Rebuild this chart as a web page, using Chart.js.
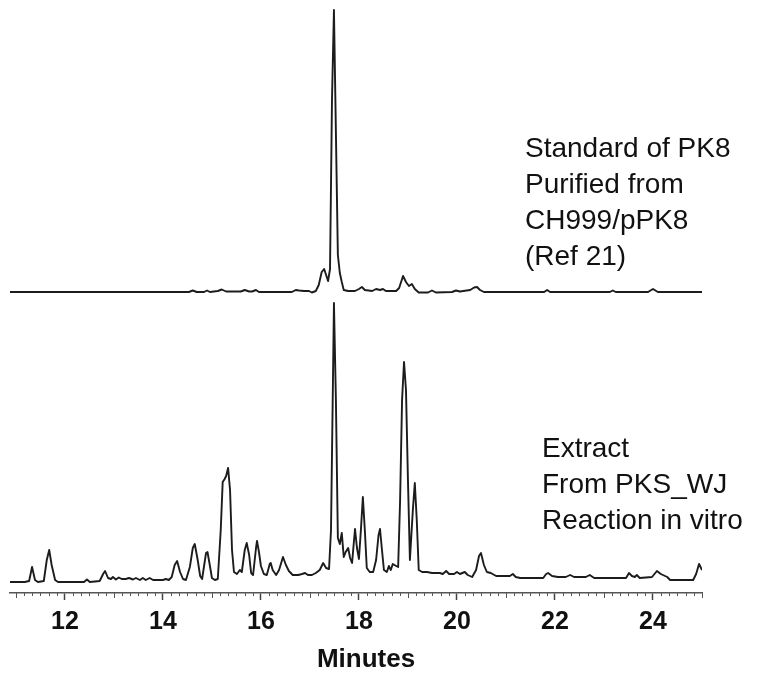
<!DOCTYPE html>
<html>
<head>
<meta charset="utf-8">
<script src="https://cdn.jsdelivr.net/npm/chart.js@4.4.1/dist/chart.umd.min.js"></script>
<style>
    html, body { margin: 0; padding: 0; background: #fff; }
</style>
</head>
<body>
<canvas id="chromatogram" width="761" height="675"></canvas>
<script>
// retention time (min) and detector signal, bottom trace = extract
const bottomTime = [10.88, 11.18, 11.27, 11.33, 11.39, 11.45, 11.57, 11.63, 11.68, 11.73, 11.80, 11.86,
    12.39, 12.45, 12.51, 12.71, 12.78, 12.82, 12.88, 12.94, 12.98, 13.04, 13.10, 13.16, 13.24, 13.31,
    13.39, 13.45, 13.53, 13.59, 13.65, 13.73, 13.80, 14.00, 14.06, 14.12, 14.18, 14.24, 14.29, 14.35,
    14.41, 14.47, 14.55, 14.61, 14.65, 14.71, 14.76, 14.80, 14.84, 14.88, 14.91, 14.96, 15.00, 15.06,
    15.12, 15.18, 15.22, 15.26, 15.29, 15.33, 15.37, 15.41, 15.45, 15.51, 15.57, 15.61, 15.67, 15.71,
    15.76, 15.80, 15.84, 15.90, 15.92, 15.96, 16.00, 16.06, 16.12, 16.18, 16.20, 16.24, 16.31, 16.37,
    16.45, 16.51, 16.57, 16.65, 16.76, 16.84, 16.90, 16.96, 17.04, 17.12, 17.20, 17.27, 17.33, 17.39,
    17.43, 17.47, 17.49, 17.53, 17.57, 17.61, 17.65, 17.69, 17.73, 17.78, 17.82, 17.86, 17.90, 17.92,
    17.96, 18.00, 18.04, 18.08, 18.12, 18.16, 18.22, 18.29, 18.35, 18.40, 18.43, 18.47, 18.51, 18.57,
    18.61, 18.65, 18.69, 18.76, 18.80, 18.84, 18.88, 18.92, 18.96, 19.00, 19.04, 19.10, 19.14, 19.18,
    19.22, 19.29, 19.39, 19.49, 19.65, 19.71, 19.78, 19.84, 19.94, 20.00, 20.06, 20.16, 20.22, 20.31,
    20.39, 20.45, 20.49, 20.55, 20.61, 20.69, 20.80, 21.08, 21.14, 21.20, 21.29, 21.76, 21.82, 21.86,
    21.94, 22.06, 22.22, 22.31, 22.39, 22.63, 22.71, 22.80, 23.45, 23.51, 23.57, 23.63, 23.67, 23.73,
    23.98, 24.08, 24.16, 24.29, 24.35, 24.82, 24.88, 24.94, 25.00];
const bottomSignal = [0, 0, 1, 15, 2, 0, 1, 22, 32, 17, 2, 0,
    0, 2.5, 0, 1, 8, 11, 4, 3, 5, 2.5, 4.5, 3, 3, 4,
    2.5, 4, 2, 4, 2, 4, 2, 2, 3, 2, 5, 17, 21, 10,
    3, 2, 15, 34, 38, 22, 6, 3, 16, 29, 30, 16, 4, 2,
    3, 52, 100, 103, 106, 114, 92, 32, 10, 8, 12, 10, 32, 39,
    27, 9, 7, 34, 41, 30, 16, 8, 7, 18, 19, 12, 7, 12,
    25, 17, 11, 7, 7, 8, 9, 7, 7, 9, 12, 19, 14, 13,
    52, 202, 279, 182, 44, 38, 49, 25, 30, 34, 24, 19, 42, 53,
    34, 23, 52, 85, 52, 14, 10, 10, 22, 47, 53, 32, 12, 10,
    16, 12, 18, 16, 15, 82, 182, 220, 192, 102, 22, 72, 99, 62,
    12, 10, 10, 9, 9, 8, 11, 8, 8, 10, 8, 10, 7, 5,
    12, 26, 29, 17, 10, 9, 6, 6, 8, 5, 4, 4, 8, 9,
    6, 5, 5, 7, 5, 5, 7, 4, 4, 9, 6, 5, 7, 4,
    5, 11, 8, 5, 2, 2, 8, 18, 12];

// top trace = PK8 standard
const topTime = [10.88, 14.53, 14.61, 14.69, 14.84, 14.90, 14.96, 15.12, 15.20, 15.29, 15.59, 15.67,
    15.76, 15.82, 15.90, 15.96, 16.63, 16.71, 16.78, 16.88, 16.98, 17.04, 17.12, 17.18, 17.24, 17.29,
    17.33, 17.37, 17.41, 17.45, 17.49, 17.57, 17.61, 17.65, 17.69, 17.78, 17.92, 18.00, 18.06, 18.12,
    18.27, 18.35, 18.43, 18.49, 18.55, 18.76, 18.82, 18.90, 18.96, 19.02, 19.08, 19.14, 19.22, 19.41,
    19.49, 19.57, 19.90, 19.98, 20.06, 20.27, 20.35, 20.41, 20.47, 20.55, 21.78, 21.84, 21.90, 23.12,
    23.18, 23.24, 23.90, 24.00, 24.10, 25.00];
const topSignal = [0, 0, 1.5, 0, 0, 1.5, 0, 1, 2.5, 0.5, 0.5, 2,
    0.5, 0.5, 2, 0, 0, 2, 1.5, 1, 1, -0.5, 1, 7, 20, 23,
    17, 11, 23, 192, 282, 37, 19, 10, 2, 1, 1, 3, 5, 2,
    1, 3, 2, 3, 1, 1, 4, 16, 10, 6, 8, 3, -0.5, -0.5,
    1.5, -0.5, 0, 1.5, 0.5, 2, 4.5, 5, 2, 0, 0, 2, 0, 0,
    1.5, 0, 0, 3, 0, 0];
const topOffset = 290;

const majorTicks = [12, 14, 16, 18, 20, 22, 24];
const topLabel = ['Standard of PK8', 'Purified from', 'CH999/pPK8', '(Ref 21)'];
const bottomLabel = ['Extract', 'From PKS_WJ', 'Reaction in vitro'];

const toPoints = function (xs, ys, offset) {
    return xs.map((x, i) => ({ x: x, y: ys[i] + offset }));
};

const axisExtras = {
    id: 'axisExtras',
    afterDraw(chart) {
        const ctx = chart.ctx;
        const xs = chart.scales.x;
        const y0 = chart.chartArea.bottom;

        // minor ticks every 10 s, longer at odd minutes
        ctx.save();
        ctx.strokeStyle = '#555';
        ctx.lineWidth = 1;
        for (let i = 65; i <= 150; i++) {
            const v = i / 6;
            if (v < xs.min || v > xs.max || i % 12 === 0) continue;
            const len = (i % 6 === 0) ? 5 : 3;
            const px = Math.round(xs.getPixelForValue(v)) + 0.5;
            ctx.beginPath();
            ctx.moveTo(px, y0);
            ctx.lineTo(px, y0 + len);
            ctx.stroke();
        }

        ctx.fillStyle = '#111';
        ctx.font = 'bold 26px "Liberation Sans", Arial, sans-serif';
        ctx.textAlign = 'center';
        ctx.textBaseline = 'middle';
        ctx.fillText('Minutes', 366, 660);

        ctx.font = '28px "Liberation Sans", Arial, sans-serif';
        ctx.textAlign = 'left';
        ctx.textBaseline = 'alphabetic';
        topLabel.forEach((t, i) => ctx.fillText(t, 525, 157 + i * 36));
        bottomLabel.forEach((t, i) => ctx.fillText(t, 542, 457 + i * 36));
        ctx.restore();
    }
};

new Chart(document.getElementById('chromatogram'), {
    type: 'line',
    data: {
        datasets: [{
            label: 'Standard of PK8',
            data: toPoints(topTime, topSignal, topOffset),
            borderColor: '#1c1c1c',
            borderWidth: 1.9,
            borderJoinStyle: 'round',
            pointRadius: 0,
            tension: 0,
            fill: false
        },
        {
            label: 'Extract',
            data: toPoints(bottomTime, bottomSignal, 0),
            borderColor: '#1c1c1c',
            borderWidth: 1.9,
            borderJoinStyle: 'round',
            pointRadius: 0,
            tension: 0,
            fill: false
        }]
    },
    plugins: [axisExtras],
    options: {
        responsive: false,
        animation: false,
        layout: { padding: { left: 10, right: 59, top: 0, bottom: 0 } },
        plugins: {
            legend: { display: false },
            tooltip: { enabled: false }
        },
        scales: {
            x: {
                type: 'linear',
                min: 10.88,
                max: 25,
                afterBuildTicks: s => { s.ticks = majorTicks.map(v => ({ value: v })); },
                afterFit: s => { s.height = 82; },
                grid: { drawOnChartArea: false, drawTicks: true, tickLength: 7, tickColor: '#444', tickWidth: 1.5 },
                border: { display: true, color: '#555', width: 1.5 },
                ticks: {
                    autoSkip: false,
                    maxRotation: 0,
                    padding: 7,
                    color: '#111',
                    font: { family: '"Liberation Sans", Arial, sans-serif', size: 25, weight: 'bold' }
                }
            },
            y: {
                display: false,
                min: -11,
                max: 582
            }
        }
    }
});
</script>
</body>
</html>
